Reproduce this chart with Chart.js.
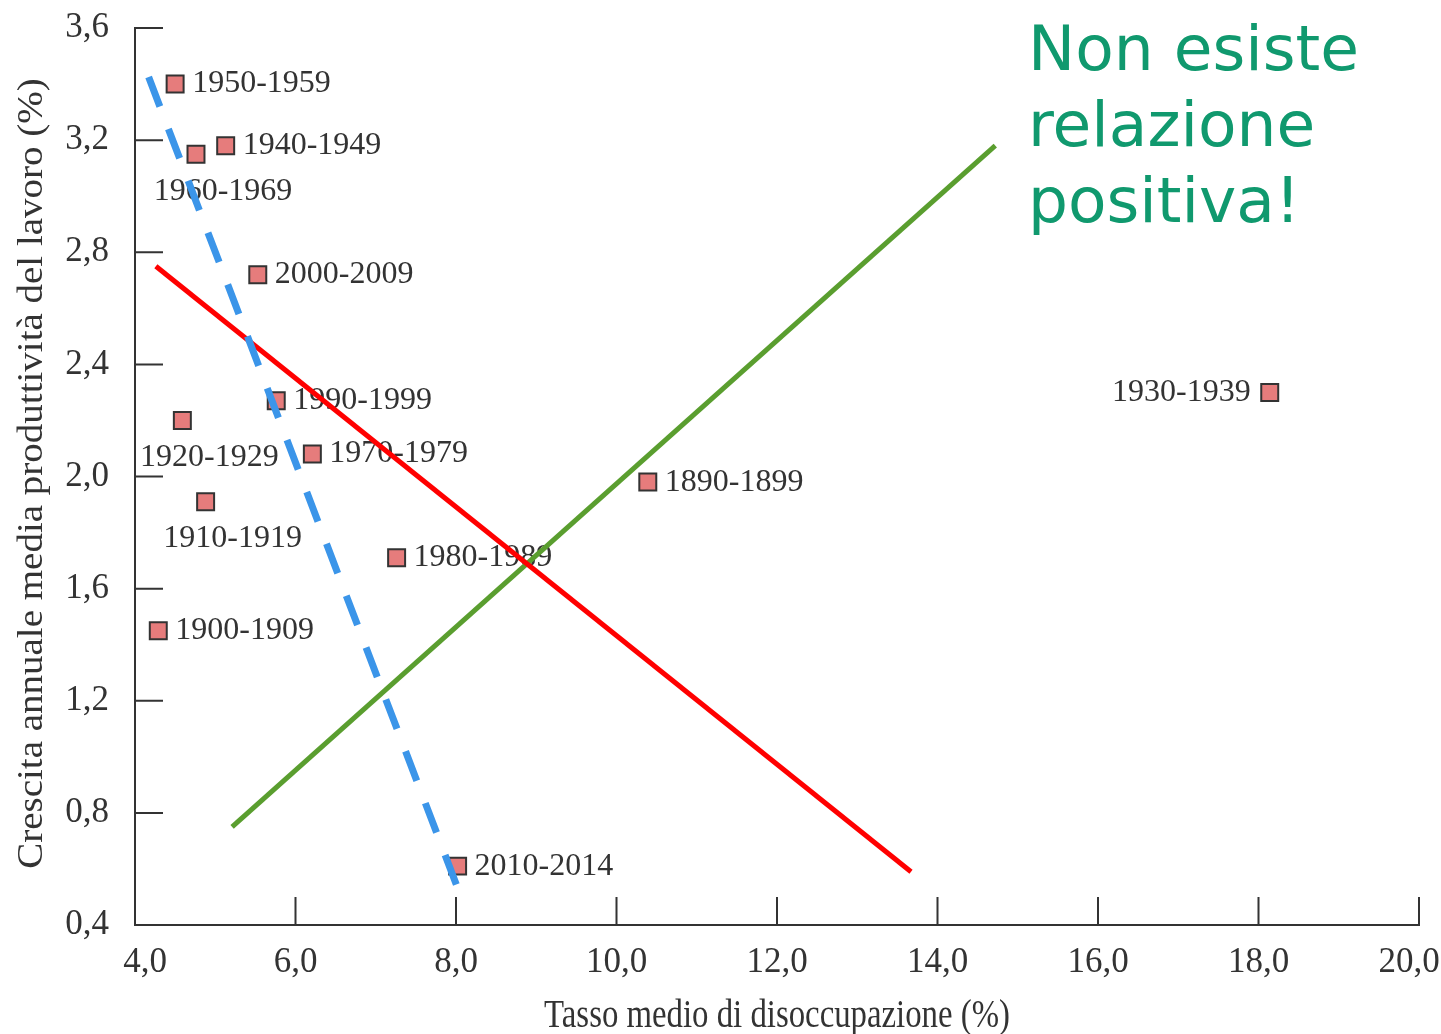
<!DOCTYPE html>
<html>
<head>
<meta charset="utf-8">
<title>Disoccupazione e produttività</title>
<script src="https://cdn.jsdelivr.net/npm/chart.js@4.4.0/dist/chart.umd.min.js"></script>
<style>
    html, body { margin: 0; padding: 0; background: #fff; }
    canvas { display: block; }
</style>
</head>
<body>
<canvas id="chart" width="1441" height="1034"></canvas>
<script>
// Decades and their values
const periods = ['1890-1899', '1900-1909', '1910-1919', '1920-1929', '1930-1939', '1940-1949', '1950-1959',
                 '1960-1969', '1970-1979', '1980-1989', '1990-1999', '2000-2009', '2010-2014'];
const unemployment = [10.39, 4.29, 4.88, 4.59, 18.14, 5.13, 4.50, 4.76, 6.21, 7.26, 5.76, 5.53, 8.02];
const productivity = [1.98, 1.45, 1.91, 2.20, 2.30, 3.18, 3.40, 3.15, 2.08, 1.71, 2.27, 2.72, 0.61];
const labelSide = ['right', 'right', 'below', 'below', 'left', 'right', 'right',
                   'below', 'right', 'right', 'right', 'right', 'right'];

// Hand-drawn trend lines (start and end)
const blueX = [4.17, 8.01];
const blueY = [3.425, 0.54];
const redX = [4.26, 13.67];
const redY = [2.75, 0.59];
const greenX = [5.21, 14.72];
const greenY = [0.75, 3.18];

const xTicks = [4, 6, 8, 10, 12, 14, 16, 18, 20];
const yTicks = [0.4, 0.8, 1.2, 1.6, 2.0, 2.4, 2.8, 3.2, 3.6];

const xTitle = 'Tasso medio di disoccupazione (%)';
const yTitle = 'Crescita annuale media produttività del lavoro (%)';
const note = ['Non esiste', 'relazione', 'positiva!'];

const serif = '"Liberation Serif", "DejaVu Serif", serif';
const axisColor = '#333';

function toPoints(xs, ys) {
    return xs.map((x, i) => ({ x: x, y: ys[i] }));
}

function fmt(v) {
    return Number(v).toFixed(1).replace('.', ',');
}

// labels next to the squares, drawn before the lines so the lines pass over them
const pointLabels = {
    id: 'pointLabels',
    afterDatasetDraw(chart, args) {
        if (args.index !== 0) return;
        const ctx = chart.ctx;
        ctx.save();
        ctx.font = '32px ' + serif;
        ctx.fillStyle = axisColor;
        ctx.textBaseline = 'middle';
        args.meta.data.forEach((pt, i) => {
            const side = labelSide[i];
            if (side === 'right') {
                ctx.textAlign = 'left';
                ctx.fillText(periods[i], pt.x + 17, pt.y);
            } else if (side === 'left') {
                ctx.textAlign = 'right';
                ctx.fillText(periods[i], pt.x - 19, pt.y);
            } else {
                ctx.textAlign = 'center';
                ctx.fillText(periods[i], pt.x + 27, pt.y + 37);
            }
        });
        ctx.restore();
    }
};

// tick marks pointing into the plot, and the tick labels
const axisDecor = {
    id: 'axisDecor',
    beforeDatasetsDraw(chart) {
        const ctx = chart.ctx;
        const { x, y } = chart.scales;
        const area = chart.chartArea;
        ctx.save();
        ctx.strokeStyle = axisColor;
        ctx.lineWidth = 2;
        ctx.beginPath();
        yTicks.forEach(v => {
            const py = y.getPixelForValue(v);
            ctx.moveTo(area.left, py);
            ctx.lineTo(area.left + 28, py);
        });
        xTicks.forEach(v => {
            const px = x.getPixelForValue(v);
            ctx.moveTo(px, area.bottom);
            ctx.lineTo(px, area.bottom - 28);
        });
        ctx.stroke();

        ctx.font = '35px ' + serif;
        ctx.fillStyle = axisColor;
        ctx.textBaseline = 'middle';
        ctx.textAlign = 'right';
        yTicks.forEach(v => {
            ctx.fillText(fmt(v), area.left - 26, y.getPixelForValue(v));
        });
        ctx.textAlign = 'center';
        xTicks.forEach((v, i) => {
            let nudge = 0;
            if (i === 0) nudge = 10;
            if (i === xTicks.length - 1) nudge = -10;
            ctx.fillText(fmt(v), x.getPixelForValue(v) + nudge, area.bottom + 38);
        });
        ctx.restore();
    }
};

const extraText = {
    id: 'extraText',
    afterDraw(chart) {
        const ctx = chart.ctx;
        const area = chart.chartArea;

        // y axis title
        ctx.save();
        ctx.translate(42, (area.top + area.bottom) / 2 - 3);
        ctx.rotate(-Math.PI / 2);
        ctx.scale(1, 0.9);
        ctx.font = '39px ' + serif;
        ctx.fillStyle = axisColor;
        ctx.textAlign = 'center';
        ctx.textBaseline = 'alphabetic';
        ctx.fillText(yTitle, 0, 0);
        ctx.restore();

        // x axis title, narrow like the original
        ctx.save();
        ctx.translate((area.left + area.right) / 2, 1027);
        ctx.scale(0.82, 1);
        ctx.font = '40px ' + serif;
        ctx.fillStyle = axisColor;
        ctx.textAlign = 'center';
        ctx.textBaseline = 'alphabetic';
        ctx.fillText(xTitle, 0, 0);
        ctx.restore();

        ctx.save();
        ctx.font = '63px "DejaVu Sans", Verdana, sans-serif';
        ctx.fillStyle = '#10996e';
        ctx.textAlign = 'left';
        ctx.textBaseline = 'alphabetic';
        note.forEach((line, i) => ctx.fillText(line, 1028, 70 + i * 76));
        ctx.restore();
    }
};

new Chart(document.getElementById('chart'), {
    type: 'scatter',
    data: {
        datasets: [
            {
                data: toPoints(unemployment, productivity),
                pointStyle: 'rect',
                pointRadius: 12,
                backgroundColor: '#e67c7c',
                borderColor: axisColor,
                borderWidth: 2,
                order: 1
            },
            {
                type: 'line',
                data: toPoints(blueX, blueY),
                borderColor: '#3b95e9',
                borderWidth: 7,
                borderDash: [31.5, 24],
                borderCapStyle: 'butt',
                pointRadius: 0,
                order: 0
            },
            {
                type: 'line',
                data: toPoints(redX, redY),
                borderColor: '#ff0000',
                borderWidth: 5,
                pointRadius: 0,
                order: 0
            },
            {
                type: 'line',
                data: toPoints(greenX, greenY),
                borderColor: '#5a9e2f',
                borderWidth: 5,
                pointRadius: 0,
                order: 0
            }
        ]
    },
    options: {
        responsive: false,
        animation: false,
        events: [],
        layout: { padding: { top: 28, right: 22, left: 0, bottom: 0 } },
        plugins: {
            legend: { display: false },
            tooltip: { enabled: false }
        },
        scales: {
            x: {
                type: 'linear',
                min: 4,
                max: 20,
                afterFit: scale => {
                    scale.height = 109;
                    scale.paddingLeft = 0;
                    scale.paddingRight = 0;
                },
                grid: { display: false, drawTicks: false },
                border: { display: true, color: axisColor, width: 2 },
                ticks: { display: false, stepSize: 2 }
            },
            y: {
                type: 'linear',
                min: 0.4,
                max: 3.6,
                afterFit: scale => {
                    scale.width = 135;
                    scale.paddingTop = 0;
                    scale.paddingBottom = 0;
                },
                grid: { display: false, drawTicks: false },
                border: { display: true, color: axisColor, width: 2 },
                ticks: { display: false, stepSize: 0.4 }
            }
        }
    },
    plugins: [pointLabels, axisDecor, extraText]
});
</script>
</body>
</html>
